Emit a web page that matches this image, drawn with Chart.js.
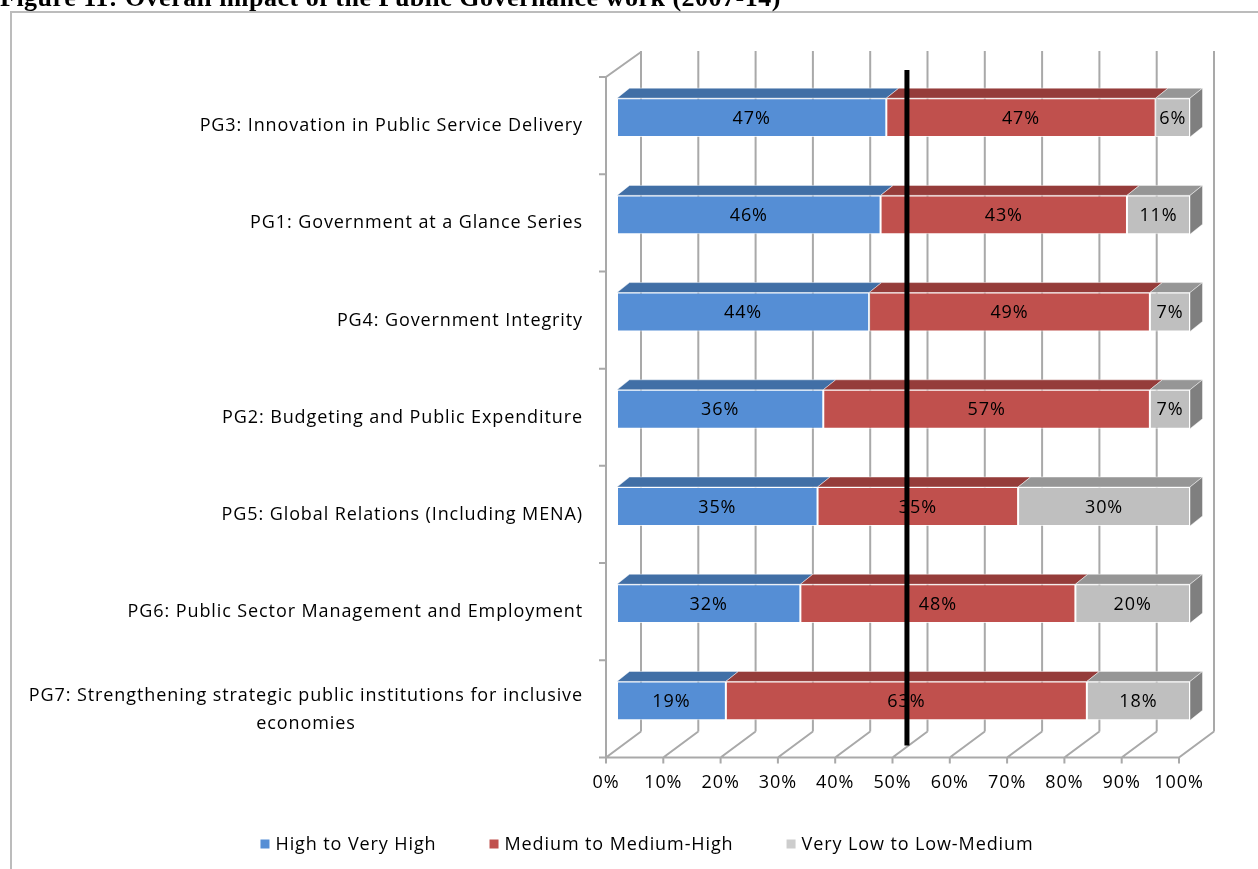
<!DOCTYPE html>
<html>
<head>
<meta charset="utf-8">
<title>Overall impact of the Public Governance work (2007-14)</title>
<script src="https://cdn.jsdelivr.net/npm/chart.js@4.4.1/dist/chart.umd.min.js"></script>
<style>
  html, body { margin: 0; padding: 0; background: #ffffff; overflow: hidden; }
  #wrap { position: relative; width: 1258px; height: 869px; }
  #frame { position: absolute; left: 10px; top: 11px; right: -4px; bottom: -4px;
           border-left: 2px solid #bcbcbc; border-top: 2px solid #bcbcbc; }
  canvas { position: absolute; left: 0; top: 0; }
</style>
</head>
<body>
<div id="wrap">
  <div id="frame"></div>
  <canvas id="chart" width="1258" height="869"></canvas>
</div>
<script>
// ---- data ----
const figureTitle = 'Figure 11: Overall impact of the Public Governance work (2007-14)';

const categories = [
  'PG3: Innovation in Public Service Delivery',
  'PG1: Government at a Glance Series',
  'PG4: Government Integrity',
  'PG2: Budgeting and Public Expenditure',
  'PG5: Global Relations (Including MENA)',
  'PG6: Public Sector Management and Employment',
  ['PG7: Strengthening strategic public institutions for inclusive', 'economies']
];

const seriesNames = ['High to Very High', 'Medium to Medium-High', 'Very Low to Low-Medium'];

const highValues   = [47, 46, 44, 36, 35, 32, 19];
const mediumValues = [47, 43, 49, 57, 35, 48, 63];
const lowValues    = [6, 11, 7, 7, 30, 20, 18];

const axisTicks = [0, 10, 20, 30, 40, 50, 60, 70, 80, 90, 100];

// position of the vertical reference line (percent)
const referenceLineAt = 50.6;

// ---- styling ----
const FONT = '"Open Sans", "Noto Sans", sans-serif';
const FONT_SIZE = 18;
const TRACKING = '0.9px';

const frontColors  = ['#558ED5', '#C0504D', '#BFBFBF'];
const topColors    = ['#416FA6', '#953C3A', '#969696'];
const legendColors = ['#558ED5', '#C0504D', '#CDCDCD'];
const sideColor    = '#7F7F7F';
const wallColor    = '#A9A9A9';

// 3D depth offsets
const BAR_DX = 12.5, BAR_DY = -10;     // bar top / side faces
const FRONT_DX = -11, FRONT_DY = 8;    // axis front plane relative to bar fronts
const BACK_DX = 24, BACK_DY = -18;     // back wall relative to bar fronts

function rowStep(yScale) {
  return yScale.getPixelForValue(1) - yScale.getPixelForValue(0);
}

// slightly wider text tracking for every label on the canvas
const trackingPlugin = {
  id: 'tracking',
  beforeUpdate(chart) { chart.ctx.letterSpacing = TRACKING; },
  beforeDraw(chart) { chart.ctx.letterSpacing = TRACKING; }
};

// walls, floor and the top/side faces of the bars
const depthPlugin = {
  id: 'depth',
  beforeDatasetsDraw(chart) {
    const { ctx, chartArea: a, scales: { x, y } } = chart;
    const step = rowStep(y);
    ctx.save();
    ctx.strokeStyle = wallColor;
    ctx.lineWidth = 2;
    ctx.lineCap = 'butt';

    const wallTop = a.top + BACK_DY;
    const floorBack = a.bottom + BACK_DY;
    const floorFront = a.bottom + FRONT_DY;
    const x0 = x.getPixelForValue(0);
    const x100 = x.getPixelForValue(100);

    ctx.beginPath();
    // back wall grid lines
    axisTicks.forEach(v => {
      const bx = x.getPixelForValue(v) + BACK_DX;
      ctx.moveTo(bx, wallTop);
      ctx.lineTo(bx, floorBack);
    });
    // floor diagonals and tick marks
    axisTicks.forEach(v => {
      const fx = x.getPixelForValue(v) + FRONT_DX;
      ctx.moveTo(fx, floorFront + 6);
      ctx.lineTo(fx, floorFront);
      ctx.lineTo(fx + (BACK_DX - FRONT_DX), floorBack);
    });
    // floor front edge
    ctx.moveTo(x0 + FRONT_DX, floorFront);
    ctx.lineTo(x100 + FRONT_DX, floorFront);
    // left wall front edge and its top
    ctx.moveTo(x0 + BACK_DX, wallTop + 1);
    ctx.lineTo(x0 + FRONT_DX, a.top + FRONT_DY);
    ctx.lineTo(x0 + FRONT_DX, floorFront);
    // category tick marks
    for (let i = 0; i <= categories.length; i++) {
      const ty = y.getPixelForValue(0) - step / 2 + i * step + FRONT_DY;
      ctx.moveTo(x0 + FRONT_DX - 7, ty);
      ctx.lineTo(x0 + FRONT_DX, ty);
    }
    ctx.stroke();

    // top faces of all segments, side face of the last segment
    chart.data.datasets.forEach((ds, di) => {
      const meta = chart.getDatasetMeta(di);
      meta.data.forEach(el => {
        const p = el.getProps(['x', 'y', 'base', 'height'], true);
        const left = Math.min(p.x, p.base), right = Math.max(p.x, p.base);
        const top = p.y - p.height / 2, bottom = p.y + p.height / 2;
        ctx.fillStyle = topColors[di];
        ctx.beginPath();
        ctx.moveTo(left, top);
        ctx.lineTo(right, top);
        ctx.lineTo(right + BAR_DX, top + BAR_DY);
        ctx.lineTo(left + BAR_DX, top + BAR_DY);
        ctx.closePath();
        ctx.fill();
        ctx.strokeStyle = 'rgba(255,255,255,0.45)';
        ctx.lineWidth = 1;
        ctx.stroke();
        if (di === chart.data.datasets.length - 1) {
          ctx.fillStyle = sideColor;
          ctx.beginPath();
          ctx.moveTo(right, top);
          ctx.lineTo(right + BAR_DX, top + BAR_DY);
          ctx.lineTo(right + BAR_DX, bottom + BAR_DY);
          ctx.lineTo(right, bottom);
          ctx.closePath();
          ctx.fill();
          ctx.stroke();
        }
      });
    });
    ctx.restore();
  },
  afterDatasetsDraw(chart) {
    const { ctx, chartArea: a, scales: { x, y } } = chart;
    ctx.save();
    ctx.letterSpacing = TRACKING;
    // value labels
    ctx.font = `${FONT_SIZE}px ${FONT}`;
    ctx.fillStyle = '#000';
    ctx.textAlign = 'center';
    ctx.textBaseline = 'middle';
    chart.data.datasets.forEach((ds, di) => {
      chart.getDatasetMeta(di).data.forEach((el, i) => {
        const p = el.getProps(['x', 'y', 'base'], true);
        ctx.fillText(ds.data[i] + '%', (p.x + p.base) / 2, p.y + 1);
      });
    });

    // vertical reference line
    const rx = x.getPixelForValue(referenceLineAt);
    ctx.strokeStyle = '#000';
    ctx.lineWidth = 5;
    ctx.beginPath();
    ctx.moveTo(rx, a.top + 1);
    ctx.lineTo(rx, a.bottom - 4);
    ctx.stroke();

    // category labels (multi-line labels are centred on their widest line)
    const rightEdge = a.left - 34;
    const lineGap = 28;
    categories.forEach((c, i) => {
      const lines = Array.isArray(c) ? c : [c];
      const w = Math.max(...lines.map(l => ctx.measureText(l).width));
      const cx = rightEdge - w / 2;
      const cy = y.getPixelForValue(i) + FRONT_DY + 0.5;
      lines.forEach((l, k) => {
        ctx.fillText(l, cx, cy - (lines.length - 1) * lineGap / 2 + k * lineGap);
      });
    });

    // legend row under the axis, centred within the outer frame
    const box = 9, boxGap = 6, itemGap = 53;
    ctx.textAlign = 'left';
    const widths = seriesNames.map(n => box + boxGap + ctx.measureText(n).width);
    const total = widths.reduce((s, w) => s + w, 0) + itemGap * (seriesNames.length - 1);
    const legendCenter = chart.width / 2 + 18;
    let lx = legendCenter - total / 2;
    const ly = a.bottom + 94.5;
    seriesNames.forEach((n, i) => {
      ctx.fillStyle = legendColors[i];
      ctx.fillRect(lx, ly - box / 2, box, box);
      ctx.fillStyle = '#000';
      ctx.fillText(n, lx + box + boxGap, ly + 1);
      lx += widths[i] + itemGap;
    });

    // figure title
    ctx.font = `bold 26px "Liberation Serif", "Times New Roman", serif`;
    ctx.letterSpacing = '0.5px';
    ctx.textAlign = 'left';
    ctx.textBaseline = 'alphabetic';
    ctx.fillText(figureTitle, 0, 6);
    ctx.restore();
  }
};

const makeSet = (label, data, i) => ({
  label,
  data,
  backgroundColor: frontColors[i],
  borderColor: 'rgba(255,255,255,0.75)',
  borderWidth: 1,
  borderSkipped: false,
  barPercentage: 0.4,
  categoryPercentage: 1.0
});

new Chart(document.getElementById('chart'), {
  type: 'bar',
  data: {
    labels: categories,
    datasets: [
      makeSet(seriesNames[0], highValues, 0),
      makeSet(seriesNames[1], mediumValues, 1),
      makeSet(seriesNames[2], lowValues, 2)
    ]
  },
  options: {
    indexAxis: 'y',
    responsive: false,
    animation: false,
    events: [],
    layout: { padding: { left: 104, right: 68, top: 69, bottom: 19.5 } },
    plugins: {
      tooltip: { enabled: false },
      legend: { display: false }
    },
    scales: {
      x: {
        stacked: true,
        min: 0,
        max: 100,
        grid: { display: false, drawTicks: false },
        border: { display: false },
        ticks: {
          stepSize: 10,
          autoSkip: false,
          maxRotation: 0,
          labelOffset: -11,
          padding: 23,
          color: '#000',
          font: { family: FONT, size: FONT_SIZE },
          callback: v => v + '%'
        },
        afterFit(s) { s.height = 100; }
      },
      y: {
        stacked: true,
        grid: { display: false, drawTicks: false },
        border: { display: false },
        ticks: { display: false },
        afterFit(s) { s.width = 513; }
      }
    }
  },
  plugins: [trackingPlugin, depthPlugin]
});
</script>
</body>
</html>
